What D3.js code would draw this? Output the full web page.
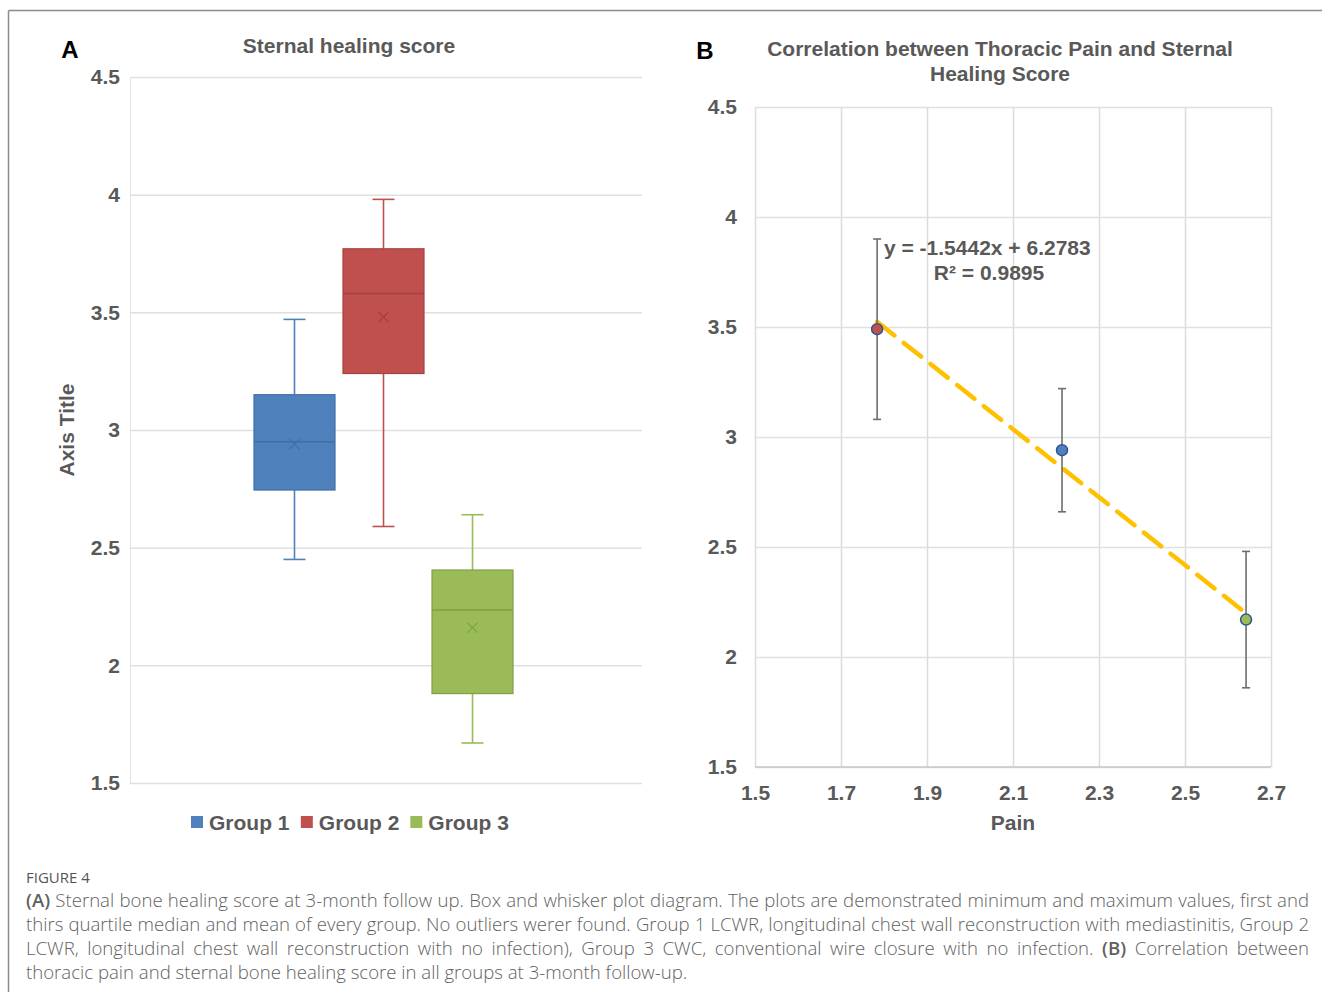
<!DOCTYPE html>
<html>
<head>
<meta charset="utf-8">
<script src="https://cdn.jsdelivr.net/npm/d3@7"></script>
<style>
  body { margin: 0; background: #fff; }
  #wrap { position: relative; width: 1322px; height: 992px; overflow: hidden; }
  svg { position: absolute; left: 0; top: 0; }
  .chart-text { font-family: 'Liberation Sans', Arial, sans-serif; font-weight: 700; fill: #595959; }
  #caption { position: absolute; left: 26px; top: 866px; width: 1283px;
    font-family: 'Open Sans', sans-serif; color: #5f5f5f; font-weight: 300; }
  #caption .fig { font-size: 15px; line-height: 22px; font-weight: 400; color: #555; }
  #caption .ln { font-size: 18.6px; line-height: 24px; text-align: justify; text-align-last: justify; white-space: nowrap; }
  #caption .ln.last { text-align-last: left; }
  #caption b { font-weight: 600; }
</style>
</head>
<body>
<div id="wrap">
  <svg id="chart" width="1322" height="992"></svg>
  <div id="caption"></div>
</div>
<script>
// panel A: box and whisker data
const groups = ['Group 1', 'Group 2', 'Group 3'];
const boxMin = [2.45, 2.59, 1.67];
const boxQ1 = [2.745, 3.24, 1.88];
const boxMedian = [2.95, 3.58, 2.235];
const boxQ3 = [3.15, 3.77, 2.405];
const boxMax = [3.47, 3.98, 2.64];
const boxMean = [2.94, 3.48, 2.16];
const groupFill = ['#4F81BD', '#C0504D', '#9BBB59'];
const groupLine = ['#3F6EA6', '#A5423F', '#7F9F45'];
const scoreTicks = [1.5, 2, 2.5, 3, 3.5, 4, 4.5];

// panel B: correlation data
const painX = [1.784, 2.214, 2.642];
const healingY = [3.49, 2.94, 2.17];
const healingErr = [0.41, 0.28, 0.31];
const pointFill = ['#C0504D', '#4F81BD', '#9BBB59'];
const painTicks = [1.5, 1.7, 1.9, 2.1, 2.3, 2.5, 2.7];
const trendSlope = -1.5442;
const trendIntercept = 6.2783;
const trendR2 = 0.9895;

const captionLines = [
  '<b>(A)</b> Sternal bone healing score at 3-month follow up. Box and whisker plot diagram. The plots are demonstrated minimum and maximum values, first and',
  'thirs quartile median and mean of every group. No outliers werer found. Group 1 LCWR, longitudinal chest wall reconstruction with mediastinitis, Group 2',
  'LCWR, longitudinal chest wall reconstruction with no infection), Group 3 CWC, conventional wire closure with no infection. <b>(B)</b> Correlation between',
  'thoracic pain and sternal bone healing score in all groups at 3-month follow-up.',
];

const svg = d3.select('#chart');

// frame lines
svg.append('line').attr('x1', 8.5).attr('x2', 1322).attr('y1', 10.5).attr('y2', 10.5)
  .style('stroke', '#8c8c8c').style('stroke-width', 1.5);
svg.append('line').attr('x1', 8.5).attr('x2', 8.5).attr('y1', 10.5).attr('y2', 992)
  .style('stroke', '#8c8c8c').style('stroke-width', 1.5);

const label = (g, x, y, txt, size, anchor, color) => g.append('text')
  .attr('class', 'chart-text')
  .attr('transform', `translate(${x},${y})`)
  .style('font-size', `${size}px`)
  .style('text-anchor', anchor || 'middle')
  .style('fill', color || '#595959')
  .text(txt);

// ---------- panel A ----------
const a = { l: 130, r: 642, t: 77, b: 783 };
const yA = d3.scaleLinear().domain([1.5, 4.5]).range([a.b, a.t]);
const x1 = d3.scaleBand().domain(groups).range([254, 513]).paddingInner(0.09);

const gA = svg.append('g');
gA.append('g')
  .attr('transform', `translate(${a.l},0)`)
  .call(d3.axisLeft(yA).tickValues(scoreTicks).tickSize(-(a.r - a.l)).tickPadding(10).tickFormat(d3.format('')))
  .call((g) => g.select('.domain').style('stroke', '#e3e3e3'))
  .call((g) => g.selectAll('.tick line').style('stroke', '#e0e0e0').style('stroke-width', 1.5))
  .call((g) => g.selectAll('.tick text')
    .attr('class', 'chart-text')
    .attr('x', -10)
    .style('font-size', '21px'));

label(gA, 70, 58, 'A', 24, 'middle', '#000');
label(gA, 349, 53, 'Sternal healing score', 21);
gA.append('text')
  .attr('class', 'chart-text')
  .attr('transform', 'translate(74,430) rotate(-90)')
  .style('font-size', '21px')
  .style('text-anchor', 'middle')
  .text('Axis Title');

const boxes = gA.selectAll('g.box')
  .data(groups)
  .enter()
  .append('g')
  .attr('class', 'box');

const bw = x1.bandwidth();
const capW = 22;
boxes.each(function (name, i) {
  const g = d3.select(this);
  const cx = x1(name) + bw / 2;
  const c = groupFill[i];
  const dark = groupLine[i];
  g.append('line').attr('x1', cx).attr('x2', cx).attr('y1', yA(boxMax[i])).attr('y2', yA(boxQ3[i]))
    .style('stroke', c).style('stroke-width', 1.6);
  g.append('line').attr('x1', cx).attr('x2', cx).attr('y1', yA(boxQ1[i])).attr('y2', yA(boxMin[i]))
    .style('stroke', c).style('stroke-width', 1.6);
  [boxMax[i], boxMin[i]].forEach((v) => {
    g.append('line').attr('x1', cx - capW / 2).attr('x2', cx + capW / 2).attr('y1', yA(v)).attr('y2', yA(v))
      .style('stroke', c).style('stroke-width', 1.6);
  });
  g.append('rect')
    .attr('x', x1(name)).attr('width', bw)
    .attr('y', yA(boxQ3[i])).attr('height', yA(boxQ1[i]) - yA(boxQ3[i]))
    .style('fill', c).style('stroke', dark).style('stroke-width', 1.2);
  g.append('line').attr('x1', x1(name)).attr('x2', x1(name) + bw)
    .attr('y1', yA(boxMedian[i])).attr('y2', yA(boxMedian[i]))
    .style('stroke', dark).style('stroke-width', 1.4);
  const my = yA(boxMean[i]);
  g.append('path')
    .attr('d', `M${cx - 5},${my - 5}L${cx + 5},${my + 5}M${cx - 5},${my + 5}L${cx + 5},${my - 5}`)
    .style('stroke', dark).style('stroke-width', 1.2).style('fill', 'none');
});

// legend
const legend = gA.append('g').attr('transform', 'translate(191,822)');
let lx = 0;
groups.forEach((name, i) => {
  legend.append('rect').attr('x', lx).attr('y', -6).attr('width', 12).attr('height', 12).style('fill', groupFill[i]);
  const t = label(legend, lx + 18, 7.5, name, 21, 'start');
  lx += 18 + t.node().getBBox().width + 11;
});

// ---------- panel B ----------
const b = { l: 755, r: 1271, t: 107, b: 767 };
const xB = d3.scaleLinear().domain([1.5, 2.7]).range([b.l, b.r]);
const yB = d3.scaleLinear().domain([1.5, 4.5]).range([b.b, b.t]);
const gB = svg.append('g');

gB.append('g')
  .attr('transform', `translate(0,${b.b})`)
  .call(d3.axisBottom(xB).tickValues(painTicks).tickSize(-(b.b - b.t)).tickPadding(0).tickFormat(d3.format('.1f')))
  .call((g) => g.select('.domain').remove())
  .call((g) => g.selectAll('.tick line').style('stroke', '#dcdcdc').style('stroke-width', 1.5))
  .call((g) => g.selectAll('.tick text')
    .attr('class', 'chart-text')
    .attr('y', 33).attr('dy', null)
    .style('font-size', '21px'));

gB.append('g')
  .attr('transform', `translate(${b.l},0)`)
  .call(d3.axisLeft(yB).tickValues(scoreTicks).tickSize(-(b.r - b.l)).tickPadding(0).tickFormat(d3.format('')))
  .call((g) => g.select('.domain').remove())
  .call((g) => g.selectAll('.tick line').style('stroke', '#e0e0e0').style('stroke-width', 1.5))
  .call((g) => g.selectAll('.tick text')
    .attr('class', 'chart-text')
    .attr('x', -18)
    .style('font-size', '21px'));

gB.append('line').attr('x1', b.l).attr('x2', b.r).attr('y1', b.b).attr('y2', b.b)
  .style('stroke', '#c8c8c8').style('stroke-width', 1.5);

label(gB, 705, 59, 'B', 24, 'middle', '#000');
label(gB, 1000, 56, 'Correlation between Thoracic Pain and Sternal', 21);
label(gB, 1000, 81, 'Healing Score', 21);
label(gB, 1013, 830, 'Pain', 21);

// trend line over the data range
const trendX = d3.extent(painX);
gB.append('line')
  .attr('x1', xB(trendX[0])).attr('y1', yB(trendSlope * trendX[0] + trendIntercept))
  .attr('x2', xB(trendX[1])).attr('y2', yB(trendSlope * trendX[1] + trendIntercept))
  .style('stroke', '#FFC000').style('stroke-width', 4.5)
  .style('stroke-dasharray', '22,12').style('stroke-linecap', 'round');

// error bars
painX.forEach((px, i) => {
  const cx = xB(px);
  const y0 = yB(healingY[i] + healingErr[i]);
  const y1 = yB(healingY[i] - healingErr[i]);
  gB.append('line').attr('x1', cx).attr('x2', cx).attr('y1', y0).attr('y2', y1)
    .style('stroke', '#6e6e6e').style('stroke-width', 1.6);
  [y0, y1].forEach((yy) => gB.append('line').attr('x1', cx - 4).attr('x2', cx + 4).attr('y1', yy).attr('y2', yy)
    .style('stroke', '#6e6e6e').style('stroke-width', 1.6));
});

gB.selectAll('circle.pt')
  .data(painX)
  .enter()
  .append('circle')
  .attr('class', 'pt')
  .attr('cx', (d) => xB(d))
  .attr('cy', (d, i) => yB(healingY[i]))
  .attr('r', 5.5)
  .style('fill', (d, i) => pointFill[i])
  .style('stroke', '#2F5597')
  .style('stroke-width', 1.5);

label(gB, 884, 255, `y = ${trendSlope}x + ${trendIntercept}`, 21, 'start');
label(gB, 989, 280, `R² = ${trendR2}`, 21);

// ---------- caption ----------
const cap = d3.select('#caption');
cap.append('div').attr('class', 'fig').text('FIGURE 4');
captionLines.forEach((line, i) => {
  cap.append('div')
    .attr('class', i === captionLines.length - 1 ? 'ln last' : 'ln')
    .html(line);
});
</script>
</body>
</html>
